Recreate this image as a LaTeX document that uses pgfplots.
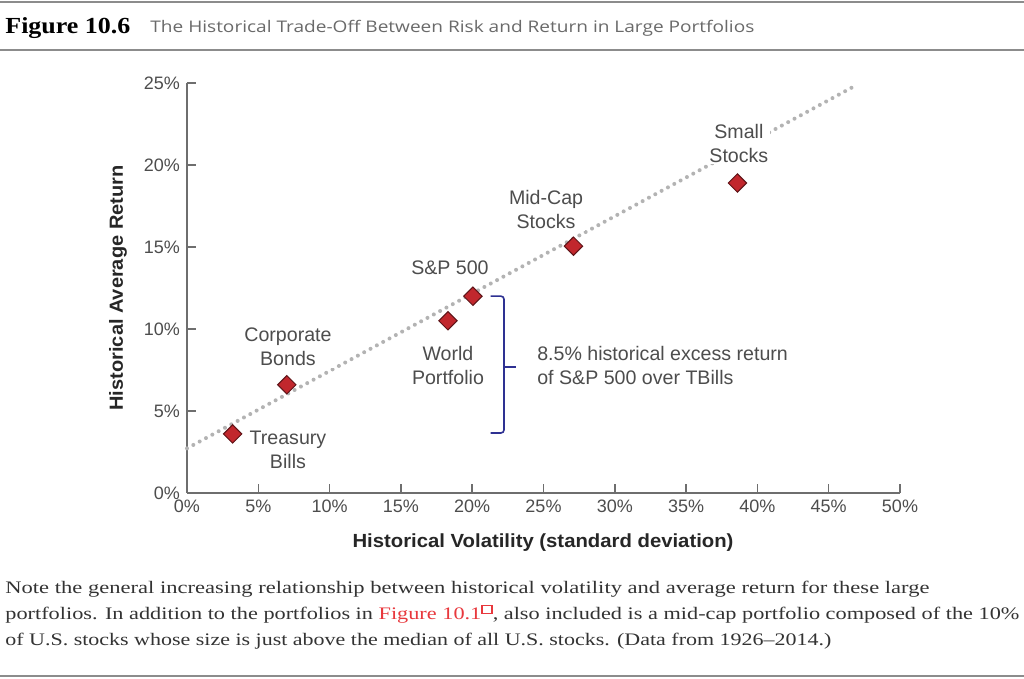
\documentclass[border=0pt]{standalone}
\usepackage{fontspec}
\setmainfont{Liberation Sans}
\newfontfamily\serifcap{Liberation Serif}
\newfontfamily\titlefont{Open Sans}
\usepackage{graphicx}
\usepackage{pgfplots}
\pgfplotsset{compat=1.18}
\definecolor{mred}{HTML}{C1272D}
\definecolor{mdark}{HTML}{5E1418}
\definecolor{dotgray}{HTML}{B3B3B3}
\definecolor{axgray}{HTML}{6E6E6E}
\definecolor{txtgray}{HTML}{4D4D4D}
\definecolor{titlegray}{HTML}{6A6A6A}
\definecolor{bracecol}{HTML}{2E3192}
\definecolor{linkred}{HTML}{E8383D}
\definecolor{rulegray}{HTML}{8C8C8C}
\definecolor{captxt}{HTML}{333333}
\newlength\fitlen
\newcommand\fitw[2]{\settowidth\fitlen{#2}\pgfmathsetmacro\fitfac{#1/\fitlen}\scalebox{\fitfac}[1]{#2}}
\newcommand\linkicon{\textcolor{linkred}{\raisebox{3.5pt}{\fboxsep=0pt\fboxrule=0.5pt\fbox{\rule{0pt}{3.5pt}\hspace{3.5pt}}}}}
\begin{document}
\begin{tikzpicture}[x=0.5pt,y=0.5pt]
\useasboundingbox (0,0) rectangle (1024,679);
\fill[white] (0,0) rectangle (1024,679);
% header
\draw[rulegray, line width=1pt] (0,676.5) -- (1024,676.5);
\draw[rulegray, line width=1pt] (0,628.5) -- (1024,628.5);
\node[anchor=base west, inner sep=0pt, font=\serifcap\bfseries\fontsize{11.5}{13}\selectfont] at (5,645) {\fitw{62.5pt}{Figure 10.6}};
\node[anchor=base west, inner sep=0pt, text=titlegray, font=\titlefont\fontsize{8}{10}\selectfont] at (150,646) {\fitw{302pt}{The Historical Trade-Off Between Risk and Return in Large Portfolios}};
% chart
\begin{axis}[at={(93.5pt,93pt)}, anchor=south west, scale only axis,
  width=356.5pt, height=205pt,
  xmin=0, xmax=50, ymin=0, ymax=25,
  axis x line=bottom, axis y line=left,
  axis line style={-, axgray, line width=0.75pt},
  tick align=inside, major tick length=4.5pt,
  every tick/.style={axgray, line width=0.75pt},
  xtick={0,5,...,50}, ytick={0,5,...,25},
  xticklabel={\pgfmathprintnumber{\tick}\%},
  yticklabel={\pgfmathprintnumber{\tick}\%},
  /pgf/number format/assume math mode=true,
  tick label style={font=\fontsize{9}{10}\selectfont, text=txtgray},
  clip=false]
\addplot[dotgray, line width=2pt, line cap=round, dash pattern=on 0pt off 3.6pt] coordinates {(0,2.72) (46.96,24.88)};
\addplot[only marks, mark=square*, mark size=3.25pt, mark options={rotate=45, fill=mred, draw=mdark, line width=0.5pt}] coordinates {
 (3.2,3.6) (7.0,6.6) (18.3,10.5) (20.05,12.0) (27.1,15.05) (38.6,18.9)};
\begin{scope}[every node/.style={font=\fontsize{9.8}{12}\selectfont, text=txtgray, align=center, inner sep=1pt, fill=white}]
\node at (axis cs:7.08,2.62) {Treasury\\Bills};
\node at (axis cs:7.08,8.9) {Corporate\\Bonds};
\node at (axis cs:18.3,7.8) {World\\Portfolio};
\node at (axis cs:18.44,13.72) {S\&P 500};
\node at (axis cs:25.18,17.26) {Mid-Cap\\Stocks};
\node at (axis cs:38.7,21.34) {Small\\Stocks};
\node[anchor=west, align=left] at (axis cs:24.4,7.8) {8.5\% historical excess return\\of S\&P 500 over TBills};
\end{scope}
\draw[bracecol, line width=0.8pt, rounded corners=1.5pt] (axis cs:21.3,12.0) -- (axis cs:22.23,12.0) -- (axis cs:22.23,3.66) -- (axis cs:21.3,3.66);
\draw[bracecol, line width=0.8pt] (axis cs:22.23,7.68) -- (axis cs:23.07,7.68);
\end{axis}
% axis labels
\node[inner sep=0pt, text=black!85, font=\bfseries\fontsize{9.5}{11}\selectfont] at (543,136) {\fitw{190.5pt}{Historical Volatility (standard deviation)}};
\node[inner sep=0pt, rotate=90, text=black!85, font=\bfseries\fontsize{9.5}{11}\selectfont] at (118,391) {\fitw{122.5pt}{Historical Average Return}};
% caption
\begin{scope}[every node/.style={anchor=base west, inner sep=0pt, text=captxt, font=\serifcap\fontsize{8.8}{10}\selectfont}]
\node at (5,85) {\fitw{462pt}{Note the general increasing relationship between historical volatility and average return for these large}};
\node at (5,59) {\fitw{507pt}{portfolios. In addition to the portfolios in \textcolor{linkred}{Figure 10.1}\linkicon, also included is a mid-cap portfolio composed of the 10\%}};
\node at (5,33) {\fitw{413pt}{of U.S. stocks whose size is just above the median of all U.S. stocks. (Data from 1926–2014.)}};
\end{scope}
\draw[rulegray, line width=1pt] (0,2.5) -- (1024,2.5);
\end{tikzpicture}
\end{document}
